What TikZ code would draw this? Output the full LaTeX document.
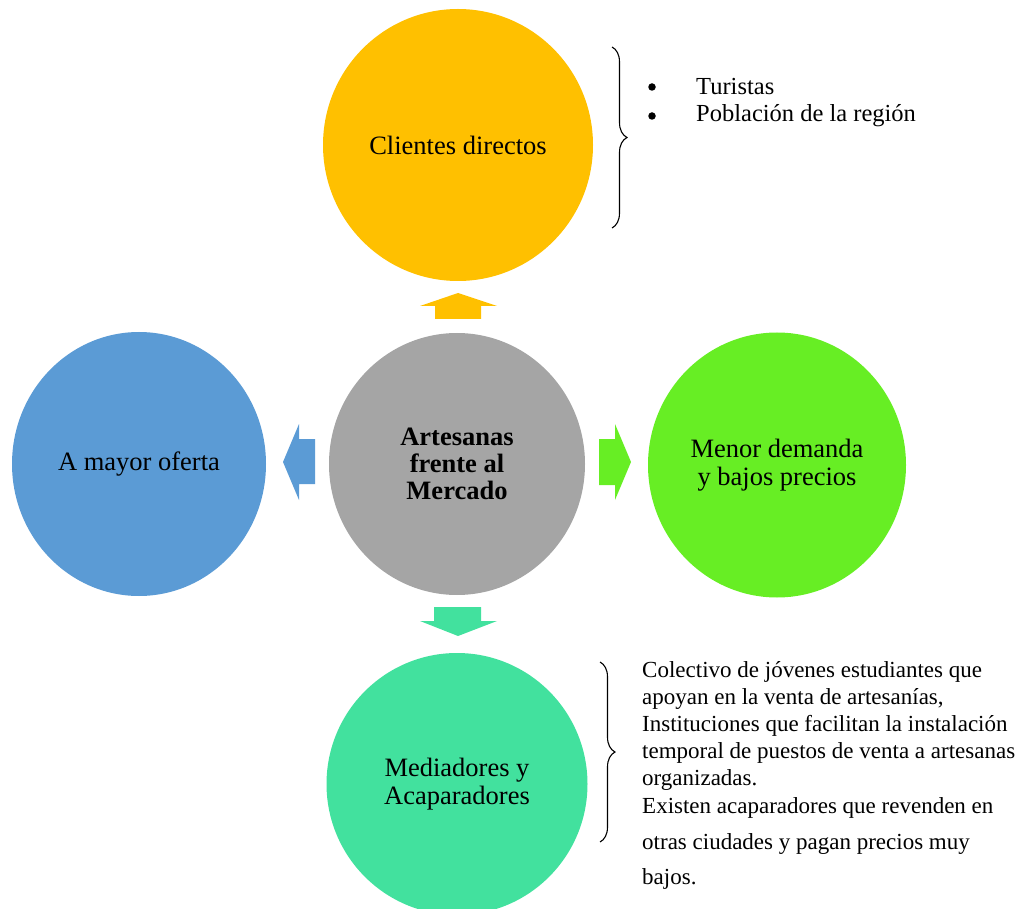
\documentclass[tikz,border=0pt]{standalone}
\usepackage{fontspec}
\setmainfont{Liberation Serif}
\usetikzlibrary{shapes.geometric,decorations.pathreplacing}
\definecolor{camarillo}{RGB}{255,192,0}
\definecolor{cgris}{RGB}{165,165,165}
\definecolor{cazul}{RGB}{91,155,213}
\definecolor{cverde}{RGB}{103,238,36}
\definecolor{cmenta}{RGB}{66,225,158}

\tikzset{
  burbuja/.style={ellipse, inner sep=0pt, align=center,
    font=\fontsize{26.5}{27.5}\selectfont},
  llave/.style={decorate, decoration={brace, amplitude=15pt}, line width=1.1pt},
  lista/.style={anchor=west, inner sep=0pt, font=\fontsize{24.5}{27}\selectfont},
  punto/.style={circle, fill=black, inner sep=0pt, minimum size=7.5pt}
}

\begin{document}
\begin{tikzpicture}[x=1pt, y=-1pt]
\useasboundingbox (0,0) rectangle (1034,909);

% circulos
\node[burbuja, fill=camarillo, minimum width=270pt, minimum height=272pt] (clientes) at (458,145) {Clientes directos};
\node[burbuja, fill=cgris, minimum width=256pt, minimum height=262pt, font=\fontsize{26.5}{27}\selectfont\bfseries] (centro) at (457,464) {Artesanas\\frente al\\Mercado};
\node[burbuja, fill=cazul, minimum width=254pt, minimum height=264pt] (oferta) at (139,464) {A mayor oferta};
\node[burbuja, fill=cverde, minimum width=258pt, minimum height=265pt] (demanda) at (777,465) {Menor demanda\\y bajos precios};
\node[burbuja, fill=cmenta, minimum width=261pt, minimum height=262pt] (mediadores) at (457,784) {Mediadores y\\Acaparadores};

% flechas de bloque
\fill[camarillo] (435,319) -- (435,306) -- (420,306) -- (458,293) -- (497,306) -- (481,306) -- (481,319) -- cycle;
\fill[cazul] (315,439) -- (299,439) -- (299,424) -- (283,462) -- (299,500) -- (299,484) -- (315,484) -- cycle;
\fill[cverde] (599,439) -- (615,439) -- (615,424) -- (631,462) -- (615,500) -- (615,485) -- (599,485) -- cycle;
\fill[cmenta] (434,607) -- (434,621) -- (420,621) -- (458,636) -- (497,621) -- (481,621) -- (481,607) -- cycle;

% llaves
\draw[llave] (612,47) -- (612,228);
\draw[llave] (600,662) -- (600,842);

\node[punto] (b1) at (652,87) {};
\node[lista] (t1) at (696,87) {Turistas};
\node[punto] (b2) at (652,116) {};
\node[lista] (t2) at (696,116) {Población de la región};

\node[lista, anchor=north west, align=left, font=\fontsize{23}{27.2}\selectfont] (detalle) at (642,661) {Colectivo de jóvenes estudiantes que\\
apoyan en la venta de artesanías,\\
Instituciones que facilitan la instalación\\
temporal de puestos de venta a artesanas\\
organizadas.\\
Existen acaparadores que revenden en\\[9pt]
otras ciudades y pagan precios muy\\[8pt]
bajos.};
\end{tikzpicture}
\end{document}
